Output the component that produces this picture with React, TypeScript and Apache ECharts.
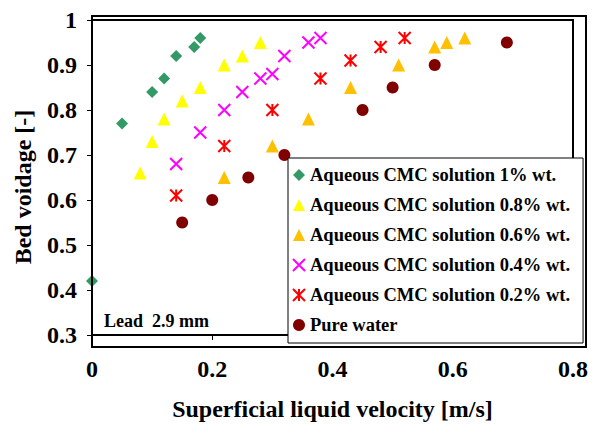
import React, { useEffect, useRef } from "react";
import * as echarts from "echarts";

const xTicks = [0, 0.2, 0.4, 0.6, 0.8];
const yTicks = [0.3, 0.4, 0.5, 0.6, 0.7, 0.8, 0.9, 1];

const cmc10: [number, number][] = [
  [0, 0.42], [0.05, 0.77], [0.1, 0.84], [0.12, 0.87], [0.14, 0.92], [0.17, 0.94], [0.18, 0.96],
];
const cmc08: [number, number][] = [
  [0.08, 0.66], [0.1, 0.73], [0.12, 0.78], [0.15, 0.82], [0.18, 0.85], [0.22, 0.9], [0.25, 0.92], [0.28, 0.95],
];
const cmc06: [number, number][] = [
  [0.22, 0.65], [0.3, 0.72], [0.36, 0.78], [0.43, 0.85], [0.51, 0.9], [0.57, 0.94], [0.59, 0.95], [0.62, 0.96],
];
const cmc04: [number, number][] = [
  [0.14, 0.68], [0.18, 0.75], [0.22, 0.8], [0.25, 0.84], [0.28, 0.87], [0.3, 0.88], [0.32, 0.92], [0.36, 0.95], [0.38, 0.96],
];
const cmc02: [number, number][] = [
  [0.14, 0.61], [0.22, 0.72], [0.3, 0.8], [0.38, 0.87], [0.43, 0.91], [0.48, 0.94], [0.52, 0.96],
];
const water: [number, number][] = [
  [0.15, 0.55], [0.2, 0.6], [0.26, 0.65], [0.32, 0.7], [0.45, 0.8], [0.5, 0.85], [0.57, 0.9], [0.69, 0.95],
];

const names = [
  "Aqueous CMC solution 1% wt.",
  "Aqueous CMC solution 0.8% wt.",
  "Aqueous CMC solution 0.6% wt.",
  "Aqueous CMC solution 0.4% wt.",
  "Aqueous CMC solution 0.2% wt.",
  "Pure water",
];

const FONT = "'Liberation Serif', 'Times New Roman', serif";
const CROSS = "path://M0,0L10,10M10,0L0,10";
const STAR = "path://M0,0L10,10M10,0L0,10M5,0L5,10";

const W = 583;
const H = 418;
const GL = 84, GT = 8, GR = 5, GB = 79;

export default function App() {
  const ref = useRef<HTMLDivElement>(null);
  useEffect(() => {
    if (!ref.current) return;
    const chart = echarts.init(ref.current, null, { renderer: "svg" });
    const filled = (name: string, data: [number, number][], symbol: string, size: number, color: string) => ({
      name, type: "scatter", data, symbol, symbolSize: size,
      itemStyle: { color, opacity: 1 },
    });
    const stroked = (name: string, data: [number, number][], symbol: string, size: number, color: string) => ({
      name, type: "scatter", data, symbol, symbolSize: size,
      itemStyle: { color: "rgba(0,0,0,0)", borderColor: color, borderWidth: 2, opacity: 1 },
    });
    chart.setOption({
      animation: false,
      backgroundColor: "#ffffff",
      textStyle: { fontFamily: FONT },
      grid: {
        left: GL, top: GT, right: GR, bottom: GB,
        show: true, borderColor: "#000", borderWidth: 2,
      },
      xAxis: {
        type: "value", min: xTicks[0], max: xTicks[xTicks.length - 1], interval: 0.2,
        name: "Superficial liquid velocity [m/s]", nameLocation: "middle", nameGap: 62,
        nameTextStyle: { fontFamily: FONT, fontWeight: "bold", fontSize: 24, color: "#000" },
        axisLine: { show: true, onZero: false, lineStyle: { color: "#000", width: 2 } },
        axisTick: { show: true, length: 5, lineStyle: { color: "#000", width: 1 } },
        axisLabel: { fontFamily: FONT, fontWeight: "bold", fontSize: 24, color: "#000", margin: 22,
          formatter: (v: number) => String(Math.round(v * 10) / 10) },
        splitLine: { show: false },
      },
      yAxis: {
        type: "value", min: yTicks[0], max: yTicks[yTicks.length - 1], interval: 0.1,
        axisLine: { show: true, onZero: false, lineStyle: { color: "#000", width: 2 } },
        axisTick: { show: true, length: 5, lineStyle: { color: "#000", width: 1 } },
        axisLabel: { fontFamily: FONT, fontWeight: "bold", fontSize: 24, color: "#000", margin: 15,
          formatter: (v: number) => (Math.abs(v - 1) < 1e-9 ? "1" : v.toFixed(1)) },
        splitLine: { show: false },
      },
      legend: {
        orient: "vertical", left: 280, top: 150,
        padding: [7, 13, 8, 4], itemGap: 10, itemWidth: 12, itemHeight: 12,
        borderColor: "#000", borderWidth: 1, backgroundColor: "#fff",
        textStyle: { fontFamily: FONT, fontWeight: "bold", fontSize: 18.5, color: "#000", lineHeight: 20 },
        data: names,
      },
      graphic: [
        { type: "rect", z: 100, silent: true,
          shape: { x: GL, y: GT, width: W - GL - GR, height: H - GT - GB },
          style: { fill: "none", stroke: "#000", lineWidth: 2 } },
        { type: "text", z: 100, x: 96, y: 313,
          style: { text: "Lead  2.9 mm", font: `bold 18px ${FONT}`, fill: "#000", verticalAlign: "middle" } },
        { type: "text", z: 100, x: 15, y: 179, rotation: Math.PI / 2,
          style: { text: "Bed voidage [-]", font: `bold 24px ${FONT}`, fill: "#000", align: "center", verticalAlign: "middle" } },
      ],
      series: [
        filled(names[0], cmc10, "diamond", 12, "#339966"),
        filled(names[1], cmc08, "triangle", 13, "#FFFF00"),
        filled(names[2], cmc06, "triangle", 13, "#FFC000"),
        stroked(names[3], cmc04, CROSS, 12, "#FF00FF"),
        stroked(names[4], cmc02, STAR, 12, "#FF0000"),
        filled(names[5], water, "circle", 12, "#800000"),
      ],
    });
    return () => chart.dispose();
  }, []);
  return <div ref={ref} style={{ width: W, height: H }} />;
}
